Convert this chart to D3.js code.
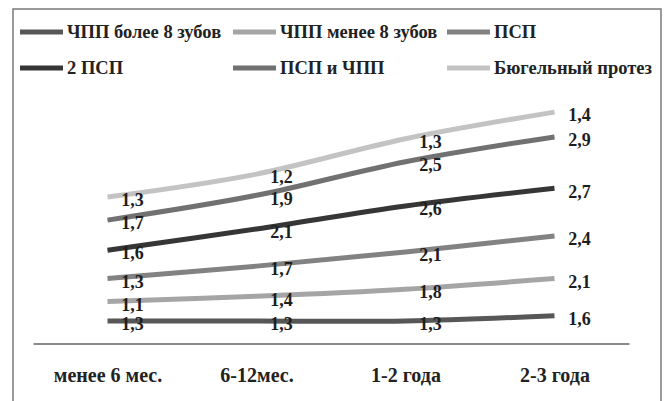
<!doctype html>
<html>
<head>
<meta charset="utf-8">
<script src="https://cdn.jsdelivr.net/npm/d3@7"></script>
</head>
<body style="margin:0;background:#fff">
<script>
const categories = ["менее 6 мес.", "6-12мес.", "1-2 года", "2-3 года"];
const seriesNames = ["ЧПП более 8 зубов", "ЧПП менее 8 зубов", "ПСП", "2 ПСП", "ПСП и ЧПП", "Бюгельный протез"];
const values = [
  [1.3, 1.3, 1.3, 1.6],
  [1.1, 1.4, 1.8, 2.1],
  [1.3, 1.7, 2.1, 2.4],
  [1.6, 2.1, 2.6, 2.7],
  [1.7, 1.9, 2.5, 2.9],
  [1.3, 1.2, 1.3, 1.4]
];
const colors = ["#575757", "#a5a5a5", "#828282", "#363636", "#717171", "#c3c3c3"];

const width = 671, height = 401;
const font = "'Liberation Serif'";
const svg = d3.select("body").append("svg")
    .attr("width", width).attr("height", height);

// frame
svg.append("rect")
    .attr("x", 13).attr("y", 9).attr("width", 648).attr("height", 420)
    .attr("fill", "none").attr("stroke", "#7a7a7a").attr("stroke-width", 1.5);

const x = d3.scalePoint().domain(categories).range([33, 629]).padding(0.5);
const y = d3.scaleLinear().domain([0, 15]).range([344, 78.5]);

// stacked line chart
const rows = categories.map((c, j) => {
  const r = {cat: c};
  seriesNames.forEach((s, i) => r[s] = values[i][j]);
  return r;
});
const stacked = d3.stack().keys(seriesNames)(rows);

const line = d3.line()
    .x(d => x(d.data.cat))
    .y(d => y(d[1]))
    .curve(d3.curveCatmullRom.alpha(0));

svg.append("g").selectAll("path")
  .data(stacked)
  .join("path")
    .attr("d", line)
    .attr("fill", "none")
    .attr("stroke", (d, i) => colors[i])
    .attr("stroke-width", 5);

// data labels
svg.append("g").selectAll("g")
  .data(stacked)
  .join("g")
  .selectAll("text")
  .data(d => d.map(p => ({p, v: p[1] - p[0]})))
  .join("text")
    .attr("x", d => x(d.p.data.cat) + 25)
    .attr("y", d => y(d.p[1]) + 3)
    .attr("dy", "0.35em")
    .attr("text-anchor", "middle")
    .style("font-family", font)
    .style("font-weight", "bold")
    .style("font-size", "18px")
    .attr("fill", "#1e1e1e")
    .text(d => d3.format(".1f")(d.v).replace(".", ","));

// x axis
const axis = svg.append("g")
    .attr("transform", "translate(0,343.5)")
    .call(d3.axisBottom(x).tickSize(0));
axis.select(".domain").attr("stroke", "#8a8a8a").attr("stroke-width", 2);
axis.selectAll(".tick text")
    .attr("y", 38.5)
    .attr("dy", 0)
    .style("font-family", font)
    .style("font-weight", "bold")
    .style("font-size", "20px")
    .attr("fill", "#222");

// legend
const legendPos = [[20, 32], [233, 32], [447, 32], [20, 68], [233, 68], [447, 68]];
const legend = svg.append("g").selectAll("g")
  .data(seriesNames)
  .join("g")
    .attr("transform", (d, i) => `translate(${legendPos[i][0]},${legendPos[i][1]})`);
legend.append("line")
    .attr("x1", 0).attr("x2", 43)
    .attr("stroke", (d, i) => colors[i])
    .attr("stroke-width", 5);
legend.append("text")
    .attr("x", 47)
    .attr("dy", "0.35em")
    .style("font-family", font)
    .style("font-weight", "bold")
    .style("font-size", "18.5px")
    .attr("fill", "#222")
    .text(d => d);
</script>
</body>
</html>
